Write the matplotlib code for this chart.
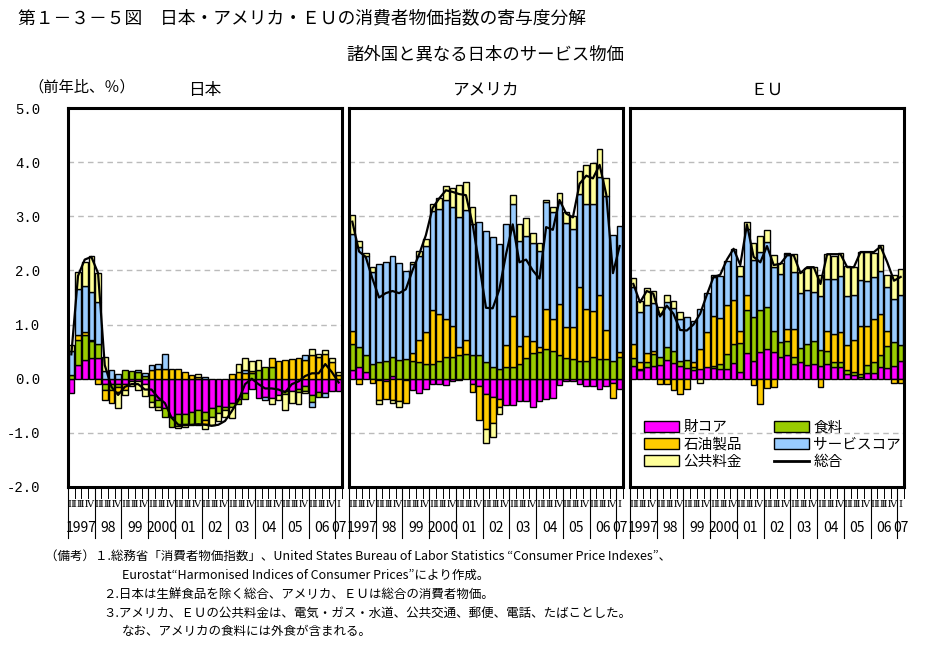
import numpy as np
import matplotlib
matplotlib.use('Agg')
import matplotlib.pyplot as plt
import matplotlib.transforms as mtransforms
from matplotlib.patches import Patch
from matplotlib.lines import Line2D

plt.rcParams['font.family'] = ['Noto Sans CJK JP', 'DejaVu Sans']

# quarterly, 1997 Q1 .. 2007 Q1 (41 quarters), contribution in % points
years = ['1997', '98', '99', '2000', '01', '02', '03', '04', '05', '06', '07']
quarter_text = 'ⅠⅡⅢⅣ'
series_names = ['財コア', '食料', '石油製品', 'サービスコア', '公共料金']
colors = ['#FF00FF', '#99CC00', '#FFCC00', '#99CCFF', '#FFFF99']

jp_goods = [-0.27, 0.26, 0.34, 0.39, 0.39, -0.10, -0.10, -0.10, -0.10, -0.05, -0.05, -0.10, -0.31, -0.40,
            -0.54, -0.70, -0.65, -0.65, -0.62, -0.58, -0.62, -0.54, -0.50, -0.52, -0.44, -0.38, -0.27,
            -0.19, -0.36, -0.33, -0.35, -0.30, -0.22, -0.23, -0.19, -0.13, -0.31, -0.24, -0.27, -0.22, -0.22]
jp_food = [0.06, 0.45, 0.46, 0.31, 0.25, -0.10, -0.10, -0.05, 0.17, 0.15, 0.12, 0.05, -0.12, -0.12,
           -0.16, -0.19, -0.23, -0.19, -0.23, -0.28, -0.15, -0.16, -0.14, -0.06, -0.09, -0.08, -0.10,
           0.10, 0.17, 0.22, 0.22, 0.00, -0.06, 0.00, -0.06, -0.09, -0.12, -0.10, 0.00, 0.00, 0.00]
jp_oil = [0.00, 0.09, 0.06, 0.02, -0.09, -0.20, -0.25, -0.10, -0.10, 0.00, 0.00, 0.00, 0.17, 0.18,
          0.18, 0.18, 0.18, 0.12, 0.06, 0.03, -0.07, 0.00, 0.00, 0.00, 0.08, 0.12, 0.10,
          0.05, 0.00, 0.00, 0.17, 0.33, 0.35, 0.37, 0.39, 0.34, 0.43, 0.40, 0.45, 0.31, 0.06]
jp_serv = [0.46, 0.86, 0.86, 0.89, 0.78, 0.15, 0.17, 0.09, 0.00, 0.00, 0.04, 0.05, 0.08, 0.09,
           0.27, 0.00, 0.00, 0.00, 0.00, 0.00, 0.04, 0.00, 0.00, 0.00, 0.00, 0.00, 0.06,
           0.00, 0.00, -0.06, 0.00, 0.00, 0.00, 0.00, 0.00, 0.09, -0.09, 0.00, -0.07, 0.00, 0.00]
jp_pub = [0.10, 0.31, 0.43, 0.65, 0.54, 0.25, 0.00, -0.30, -0.11, -0.08, -0.15, -0.22, -0.10, -0.05,
          0.00, 0.00, -0.03, -0.06, 0.00, 0.05, -0.09, -0.15, -0.14, -0.12, -0.20, 0.15, 0.22,
          0.17, 0.18, 0.00, -0.12, -0.10, -0.30, -0.22, -0.22, -0.05, 0.12, 0.06, 0.08, 0.08, 0.06]
jp_total = [0.45, 1.90, 2.20, 2.25, 1.95, 0.25, -0.15, -0.30, -0.15, -0.10, -0.10, -0.20, -0.20, -0.35,
            -0.45, -0.72, -0.85, -0.86, -0.85, -0.84, -0.85, -0.87, -0.85, -0.78, -0.60, -0.40, -0.10,
            0.00, -0.10, -0.18, -0.18, -0.20, -0.25, -0.10, -0.05, 0.05, 0.10, 0.10, 0.27, 0.12, -0.07]

us_goods = [0.16, 0.21, 0.12, 0.00, -0.03, -0.05, 0.05, -0.01, -0.03, -0.21, -0.27, -0.19, -0.10, -0.10,
            -0.12, -0.05, -0.03, 0.00, -0.10, -0.13, -0.28, -0.33, -0.38, -0.48, -0.48, -0.42, -0.42,
            -0.52, -0.42, -0.38, -0.35, -0.11, -0.04, -0.04, -0.10, -0.13, -0.13, -0.19, -0.13, -0.07, -0.19]
us_food = [0.48, 0.37, 0.31, 0.28, 0.30, 0.33, 0.35, 0.35, 0.36, 0.33, 0.30, 0.28, 0.28, 0.32,
           0.40, 0.40, 0.44, 0.46, 0.44, 0.44, 0.30, 0.21, 0.18, 0.21, 0.21, 0.27, 0.38,
           0.47, 0.49, 0.55, 0.52, 0.44, 0.38, 0.36, 0.33, 0.33, 0.40, 0.36, 0.36, 0.33, 0.41]
us_oil = [0.25, -0.10, 0.00, -0.07, -0.36, -0.33, -0.39, -0.41, -0.42, 0.15, 0.41, 0.59, 0.99, 0.88,
          0.71, 0.57, 0.14, 0.25, -0.15, -0.64, -0.65, -0.48, -0.14, 0.41, 0.94, 0.34, 0.40,
          0.22, 0.10, 0.74, 0.59, 0.94, 0.57, 0.60, 1.37, 0.96, 0.85, 1.19, 0.54, -0.28, 0.08]
us_serv = [1.79, 1.85, 1.83, 1.69, 1.82, 1.82, 1.87, 1.78, 1.63, 1.64, 1.56, 1.59, 1.83, 1.93,
           2.19, 2.21, 2.41, 2.41, 2.42, 2.45, 2.43, 2.41, 2.30, 2.23, 2.07, 1.93, 1.85,
           1.81, 1.77, 1.98, 1.96, 1.88, 1.93, 1.81, 1.72, 1.93, 1.98, 2.17, 2.47, 2.33, 2.33]
us_pub = [0.34, 0.12, 0.06, 0.09, -0.08, 0.00, -0.05, -0.10, 0.00, 0.03, 0.09, 0.12, 0.12, 0.20,
          0.26, 0.34, 0.59, 0.52, 0.31, 0.00, -0.26, -0.27, -0.14, 0.00, 0.18, 0.32, 0.33,
          0.20, 0.14, 0.04, 0.10, 0.17, 0.20, 0.23, 0.42, 0.73, 0.75, 0.52, 0.33, 0.00, 0.00]
us_total = [2.90, 2.35, 2.25, 1.85, 1.50, 1.58, 1.62, 1.58, 1.65, 2.00, 2.30, 2.65, 3.15, 3.33,
            3.48, 3.45, 3.41, 3.39, 2.85, 2.10, 1.31, 1.30, 1.65, 2.30, 2.85, 2.15, 2.20,
            2.00, 1.85, 2.80, 2.75, 3.30, 3.05, 2.98, 3.60, 3.75, 3.70, 3.95, 3.40, 1.95, 2.45]

eu_goods = [0.23, 0.16, 0.21, 0.24, 0.25, 0.35, 0.29, 0.23, 0.20, 0.16, 0.18, 0.21, 0.20, 0.18,
            0.18, 0.29, 0.12, 0.47, 0.33, 0.49, 0.55, 0.49, 0.41, 0.43, 0.27, 0.30, 0.26,
            0.27, 0.24, 0.27, 0.21, 0.21, 0.09, 0.06, 0.04, 0.10, 0.10, 0.21, 0.20, 0.24, 0.32]
eu_food = [0.15, 0.02, 0.09, 0.22, 0.15, 0.23, 0.22, 0.10, 0.15, 0.06, 0.00, 0.00, 0.04, 0.09,
           0.28, 0.35, 0.54, 0.80, 0.81, 0.77, 0.78, 0.40, 0.27, 0.27, 0.14, 0.27, 0.38,
           0.43, 0.29, 0.25, 0.09, 0.09, 0.07, 0.06, 0.05, 0.16, 0.20, 0.22, 0.41, 0.43, 0.31]
eu_oil = [0.27, 0.12, 0.17, 0.05, -0.10, -0.09, -0.21, -0.28, -0.19, 0.08, 0.37, 0.65, 0.91, 0.86,
          0.91, 0.81, 0.22, 0.28, -0.12, -0.46, -0.17, -0.15, 0.00, 0.21, 0.51, 0.00, 0.00,
          0.00, -0.16, 0.37, 0.52, 0.56, 0.47, 0.60, 0.88, 0.72, 0.80, 0.76, 0.28, -0.08, -0.08]
eu_serv = [1.04, 0.94, 0.90, 0.88, 0.79, 0.83, 0.80, 0.77, 0.79, 0.77, 0.74, 0.72, 0.73, 0.77,
           0.81, 0.94, 1.01, 1.22, 1.05, 1.08, 1.19, 1.17, 1.25, 1.40, 1.05, 1.01, 0.99,
           0.91, 0.99, 0.96, 1.02, 1.03, 0.89, 0.82, 0.85, 0.82, 0.78, 0.80, 0.81, 0.80, 0.91]
eu_pub = [0.17, 0.19, 0.31, 0.23, 0.14, 0.14, 0.12, 0.14, 0.00, 0.00, -0.07, 0.00, 0.03, 0.00,
          0.00, 0.00, 0.19, 0.12, 0.31, 0.29, 0.22, 0.23, 0.20, 0.01, 0.33, 0.39, 0.42,
          0.46, 0.39, 0.45, 0.43, 0.43, 0.56, 0.52, 0.52, 0.54, 0.45, 0.48, 0.22, 0.45, 0.48]
eu_total = [1.75, 1.41, 1.62, 1.57, 1.15, 1.35, 1.20, 0.90, 0.89, 1.00, 1.20, 1.55, 1.88, 1.92,
            2.20, 2.40, 2.10, 2.85, 2.25, 2.15, 2.45, 2.10, 2.12, 2.28, 2.28, 1.95, 2.06,
            2.06, 1.75, 2.30, 2.30, 2.30, 2.06, 2.06, 2.34, 2.34, 2.34, 2.44, 2.15, 1.81, 1.88]

panels = [
    ('日本', 68, [jp_goods, jp_food, jp_oil, jp_serv, jp_pub], jp_total),
    ('アメリカ', 349, [us_goods, us_food, us_oil, us_serv, us_pub], us_total),
    ('ＥＵ', 630, [eu_goods, eu_food, eu_oil, eu_serv, eu_pub], eu_total),
]

W, H = 933, 652
fig = plt.figure(figsize=(W / 100, H / 100), dpi=100)


def fx(px):
    return px / W


def fy(py):
    return 1 - py / H


n = len(jp_total)
x = np.arange(n)

for k, (name, left, comps, total) in enumerate(panels):
    ax = fig.add_axes([fx(left), fy(487), 274 / W, 379 / H])
    ax.set_xlim(-0.5, n - 0.5)
    ax.set_ylim(-2, 5)
    for g in [1, 2, 3, 4, -1]:
        ax.axhline(g, color='#BBBBBB', lw=1, ls=(0, (4, 3)), zorder=0)

    # stacked bars, positives up and negatives down
    pos = np.zeros(n)
    neg = np.zeros(n)
    for vals, c in zip(comps, colors):
        v = np.array(vals)
        m = v > 0
        ax.bar(x[m], v[m], bottom=pos[m], width=0.85, color=c, edgecolor='black', lw=1, zorder=2)
        pos[m] += v[m]
        m = v < 0
        ax.bar(x[m], v[m], bottom=neg[m], width=0.85, color=c, edgecolor='black', lw=1, zorder=2)
        neg[m] += v[m]
    ax.plot(x, total, color='black', lw=1.6, zorder=3)

    for s in ax.spines.values():
        s.set_linewidth(2.2)
    ax.set_xticks([])
    if k == 0:
        ax.set_yticks(range(-2, 6))
        ax.set_yticklabels([f'{v:.1f}' for v in range(-2, 6)], family='Liberation Mono', fontsize=10)
        ax.tick_params(axis='y', length=0, pad=20)
    else:
        ax.set_yticks([])

    # quarter ticks, quarter labels, year separators and year labels
    trans = mtransforms.blended_transform_factory(ax.transData, ax.transAxes)
    for i in range(n + 1):
        ax.plot([i - 0.5, i - 0.5], [0, -0.03], transform=trans, color='black', lw=0.7,
                clip_on=False)
    for j, yl in enumerate(years):
        last = j == len(years) - 1
        xc = n - 1 if last else 4 * j + 1.5
        qt = quarter_text[0] if last else quarter_text
        ax.text(xc, -0.045, qt, transform=trans, ha='center', va='center',
                family=['DejaVu Serif', 'DejaVu Sans'], fontsize=7, clip_on=False)
        ax.text(xc, -0.108, yl, transform=trans, ha='center', va='center', fontsize=10,
                clip_on=False)
        ax.plot([4 * j - 0.5, 4 * j - 0.5], [0, -0.135], transform=trans, color='black',
                lw=0.8, clip_on=False)

    fig.text(fx(left + 137), fy(90), name, ha='center', va='center', fontsize=12)

    if k == 2:
        handles = [Patch(facecolor=colors[0], edgecolor='black', label=series_names[0]),
                   Patch(facecolor=colors[2], edgecolor='black', label=series_names[2]),
                   Patch(facecolor=colors[4], edgecolor='black', label=series_names[4]),
                   Patch(facecolor=colors[1], edgecolor='black', label=series_names[1]),
                   Patch(facecolor=colors[3], edgecolor='black', label=series_names[3]),
                   Line2D([], [], color='black', lw=2, label='総合')]
        ax.legend(handles=handles, ncol=2, loc='upper left', bbox_to_anchor=(0.025, 0.195),
                  frameon=False, fontsize=10.5, handlelength=2.4, handleheight=0.75,
                  handletextpad=0.3, columnspacing=2.2, labelspacing=0.22, borderpad=0)

fig.text(fx(18), fy(18), '第１－３－５図　日本・アメリカ・ＥＵの消費者物価指数の寄与度分解',
         ha='left', va='center', fontsize=12.8)
fig.text(fx(485), fy(55), '諸外国と異なる日本のサービス物価', ha='center', va='center', fontsize=12.5)
fig.text(fx(28), fy(87), '（前年比、％）', ha='left', va='center', fontsize=11)

notes = [
    (45, 556, '（備考）１.総務省「消費者物価指数」、United States Bureau of Labor Statistics “Consumer Price Indexes”、'),
    (122, 575, 'Eurostat“Harmonised Indices of Consumer Prices”により作成。'),
    (103, 594, '２.日本は生鮮食品を除く総合、アメリカ、ＥＵは総合の消費者物価。'),
    (103, 613, '３.アメリカ、ＥＵの公共料金は、電気・ガス・水道、公共交通、郵便、電話、たばことした。'),
    (122, 631, 'なお、アメリカの食料には外食が含まれる。'),
]
for px, py, t in notes:
    fig.text(fx(px), fy(py), t, ha='left', va='center', fontsize=9)

fig.savefig('out.png', dpi=100)
